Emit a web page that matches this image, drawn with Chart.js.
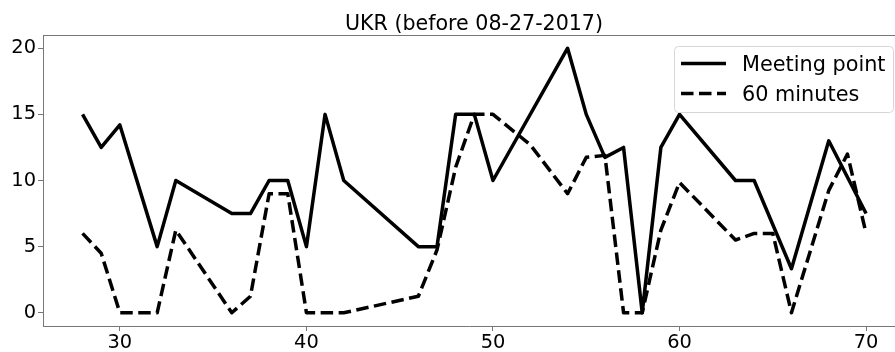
<!DOCTYPE html>
<html>
<head>
<meta charset="utf-8">
<script src="https://cdn.jsdelivr.net/npm/chart.js@4"></script>
<style>
  html, body { margin: 0; padding: 0; background: #fff; overflow: hidden; }
  #wrap { width: 895px; height: 352px; position: relative; }
</style>
</head>
<body>
<div id="wrap"><canvas id="c" width="895" height="352"></canvas></div>
<script>
const titleText = 'UKR (before 08-27-2017)';
const seriesNames = ['Meeting point', '60 minutes'];

const meetingX = [28, 29, 30, 32, 33, 36, 37, 38, 39, 40, 41, 42, 46, 47, 48, 49, 50, 54, 55, 56, 57, 58, 59, 60, 63, 64, 66, 68, 70];
const meetingY = [15, 12.5, 14.2, 5, 10, 7.5, 7.5, 10, 10, 5, 15, 10, 5, 5, 15, 15, 10, 20, 15, 11.75, 12.5, 0, 12.5, 15, 10, 10, 3.33, 13, 7.5];

const minutesX = [28, 29, 30, 32, 33, 36, 37, 38, 39, 40, 42, 46, 47, 48, 49, 50, 52, 54, 55, 56, 57, 58, 59, 60, 63, 64, 65, 66, 68, 69, 70];
const minutesY = [6, 4.5, 0, 0, 6.25, 0, 1.25, 9, 9, 0, 0, 1.25, 4.75, 11, 15, 15, 12.7, 9, 11.75, 11.9, 0, 0, 6.25, 9.85, 5.5, 6, 6, 0, 9.25, 12, 6];

const xTicks = [30, 40, 50, 60, 70];
const yTicks = [0, 5, 10, 15, 20];

const toPoints = (xs, ys) => xs.map((x, i) => ({ x: x, y: ys[i] }));

const SPINE = '#777';
const FONT = '"DejaVu Sans", sans-serif';

const framePlugin = {
  id: 'frame',
  afterDraw(chart) {
    const ctx = chart.ctx;
    const a = chart.chartArea;
    ctx.save();
    // top spine
    ctx.strokeStyle = SPINE;
    ctx.lineWidth = 1;
    ctx.beginPath();
    ctx.moveTo(a.left, Math.round(a.top) + 0.5);
    ctx.lineTo(a.right, Math.round(a.top) + 0.5);
    ctx.stroke();

    // title (centered over the full axes, which extend past the crop)
    ctx.fillStyle = '#000';
    ctx.font = '20.6px ' + FONT;
    ctx.textAlign = 'center';
    ctx.textBaseline = 'alphabetic';
    ctx.fillText(titleText, 474, 30);

    // legend
    const bx = 674.5, by = 46.5, bw = 219, bh = 66, r = 4;
    ctx.beginPath();
    ctx.moveTo(bx + r, by);
    ctx.lineTo(bx + bw - r, by);
    ctx.quadraticCurveTo(bx + bw, by, bx + bw, by + r);
    ctx.lineTo(bx + bw, by + bh - r);
    ctx.quadraticCurveTo(bx + bw, by + bh, bx + bw - r, by + bh);
    ctx.lineTo(bx + r, by + bh);
    ctx.quadraticCurveTo(bx, by + bh, bx, by + bh - r);
    ctx.lineTo(bx, by + r);
    ctx.quadraticCurveTo(bx, by, bx + r, by);
    ctx.closePath();
    ctx.fillStyle = 'rgba(255,255,255,0.85)';
    ctx.fill();
    ctx.strokeStyle = '#d6d6d6';
    ctx.stroke();

    const rows = [63.5, 93.5];
    chart.data.datasets.forEach((ds, i) => {
      const y = rows[i];
      ctx.strokeStyle = ds.borderColor;
      ctx.lineWidth = ds.borderWidth;
      ctx.setLineDash(ds.borderDash || []);
      ctx.lineCap = 'butt';
      ctx.beginPath();
      ctx.moveTo(681, y);
      ctx.lineTo(726, y);
      ctx.stroke();
      ctx.setLineDash([]);
      ctx.fillStyle = '#000';
      ctx.font = '20.8px ' + FONT;
      ctx.textAlign = 'left';
      ctx.textBaseline = 'alphabetic';
      ctx.fillText(ds.label, 742, y + 7.3);
    });
    ctx.restore();
  }
};

new Chart(document.getElementById('c'), {
  type: 'line',
  data: {
    datasets: [
      {
        label: seriesNames[0],
        data: toPoints(meetingX, meetingY),
        borderColor: '#000',
        borderWidth: 3.5,
        pointRadius: 0,
        tension: 0,
        fill: false,
        borderJoinStyle: 'round',
        borderCapStyle: 'butt'
      },
      {
        label: seriesNames[1],
        data: toPoints(minutesX, minutesY),
        borderColor: '#000',
        borderWidth: 3.5,
        borderDash: [12.5, 5.5],
        pointRadius: 0,
        tension: 0,
        fill: false,
        borderJoinStyle: 'round',
        borderCapStyle: 'butt'
      }
    ]
  },
  options: {
    responsive: false,
    animation: false,
    events: [],
    layout: { padding: { top: 35, left: 0, right: 0, bottom: 0 } },
    plugins: {
      legend: { display: false },
      title: { display: false },
      tooltip: { enabled: false }
    },
    scales: {
      x: {
        type: 'linear',
        min: 25.88,
        max: 71.55,
        afterBuildTicks: s => { s.ticks = xTicks.map(v => ({ value: v })); },
        afterFit: s => { s.height = 26; },
        grid: { display: true, drawOnChartArea: false, drawTicks: true, tickLength: 5, tickColor: SPINE, tickWidth: 1 },
        border: { display: true, color: SPINE, width: 1 },
        ticks: {
          color: '#000',
          padding: 0,
          maxRotation: 0,
          autoSkip: false,
          font: { family: FONT, size: 19.4 },
          callback: v => String(v)
        }
      },
      y: {
        type: 'linear',
        min: -1,
        max: 21,
        afterBuildTicks: s => { s.ticks = yTicks.map(v => ({ value: v })); },
        afterFit: s => { s.width = 43; },
        grid: { display: true, drawOnChartArea: false, drawTicks: true, tickLength: 5, tickColor: SPINE, tickWidth: 1 },
        border: { display: true, color: SPINE, width: 1 },
        ticks: {
          color: '#000',
          padding: 2,
          autoSkip: false,
          font: { family: FONT, size: 19.4 },
          callback: v => String(v)
        }
      }
    }
  },
  plugins: [framePlugin]
});
</script>
</body>
</html>
